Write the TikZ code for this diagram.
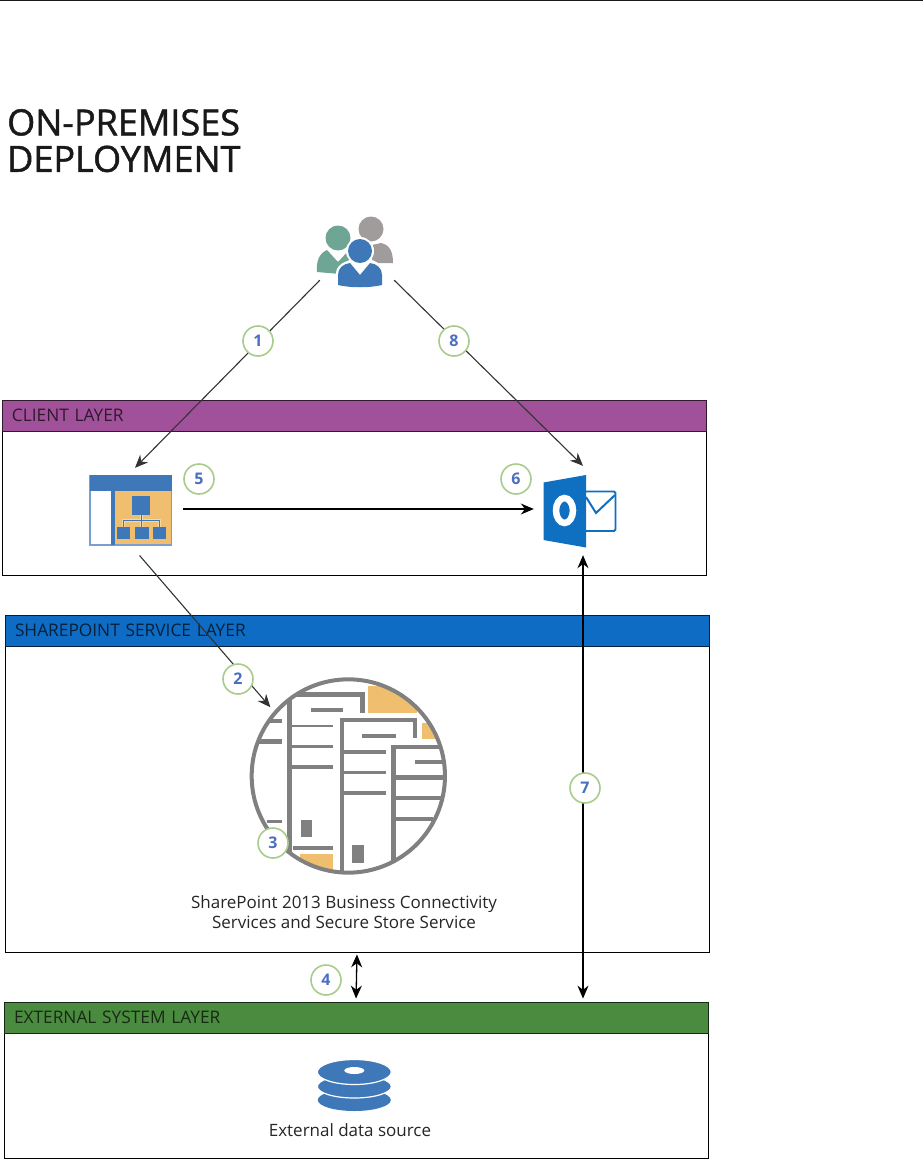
\documentclass[tikz,border=0pt]{standalone}
\usepackage{fontspec}
\setmainfont{Open Sans}
\newfontfamily\titlefont[FakeBold=1.3]{Open Sans}
\usetikzlibrary{arrows.meta}
\definecolor{LayerPurple}{HTML}{A0519A}
\definecolor{LayerBlue}{HTML}{0F6CC4}
\definecolor{LayerGreen}{HTML}{4B8B3F}
\definecolor{IconBlue}{HTML}{3F78B8}
\definecolor{IconOrange}{HTML}{EFBE6E}
\definecolor{IconGray}{HTML}{808080}
\definecolor{UserGray}{HTML}{A09C9C}
\definecolor{IconSage}{HTML}{6FA594}
\definecolor{MailBlue}{HTML}{0F6FC0}
\definecolor{StepGreen}{HTML}{A9CC8C}
\definecolor{StepBlue}{HTML}{4A6FC0}
\tikzset{
    layerbox/.style={draw=black, line width=0.8pt, inner sep=0pt},
    layerbar/.style={draw=black!70!#1, fill=#1, text=black!70!#1, line width=0.8pt, inner sep=0pt, minimum width=704pt, minimum height=31pt,
        text width=684pt, align=left, font=\fontsize{17.3}{19}\selectfont},
    iconbox/.style={inner sep=0pt},
    stepnum/.style={circle, draw=StepGreen, line width=1.6pt, fill=white, minimum size=30pt, inner sep=0pt,
        text=StepBlue, font=\fontsize{16}{18}\selectfont\bfseries},
    caption/.style={align=center, text=black!85, font=\fontsize{17}{19.5}\selectfont},
    flow/.style={->, line width=1.1pt, black!80},
    flowdark/.style={line width=1.3pt, black},
}

\begin{document}
\begin{tikzpicture}[>={Stealth[length=13pt,width=11pt]}, x=1pt, y=-1pt]
    \useasboundingbox (0,0) rectangle (923,1159);
    \fill[white] (0,0) rectangle (923,1159);
    % Rule at the top
    \draw[black!90, line width=1pt] (0,0.5) -- (923,0.5);

    % Title
    \node[anchor=north west, inner sep=0pt, align=left, text=black!90, font=\titlefont\fontsize{36}{36.5}\selectfont] (title) at (7,109) {ON-PREMISES\\DEPLOYMENT};

    % Client layer
    \node[layerbox, minimum width=704pt, minimum height=175pt] (clientbox) at (354,487.5) {};
    \node[layerbar=LayerPurple] (clientbar) at (354,415.5) {CLIENT LAYER};

    % SharePoint layer
    \node[layerbox, minimum width=704pt, minimum height=337pt] (spbox) at (357,783.5) {};
    \node[layerbar=LayerBlue] (spbar) at (357,630.5) {SHAREPOINT SERVICE LAYER};

    % External system layer
    \node[layerbox, minimum width=704pt, minimum height=156pt] (extbox) at (356,1080) {};
    \node[layerbar=LayerGreen] (extbar) at (356,1017.5) {EXTERNAL SYSTEM LAYER};

    % Icon places
    \node[iconbox, minimum width=74pt, minimum height=62pt] (users) at (357,249) {};
    \node[iconbox, minimum width=96pt, minimum height=82pt] (app) at (135,509) {};
    \node[iconbox, minimum width=98pt, minimum height=86pt] (outlook) at (583,509) {};
    \node[iconbox, circle, minimum size=206pt] (bcs) at (348.3,775) {};
    \node[iconbox, minimum width=74pt, minimum height=50pt] (database) at (354,1086) {};

    % Users
    \fill[UserGray] (371,229) circle (12.5);
    \fill[UserGray] (372,245) -- (381,243) .. controls (390,245) and (393,252) .. (393,263) -- (372,263) -- cycle;
    \fill[IconSage] (338,238) circle (12.5);
    \fill[IconSage] (327,250) -- (338,262) -- (349,250) -- (351,264) -- (340,274) -- (317,272) .. controls (316,260) and (320,253) .. (327,250) -- cycle;
    \fill[white] (360,251) circle (14);
    \fill[white] (336,289) -- (336,272) .. controls (338,264) and (344,262) .. (350,260) -- (372,260) .. controls (378,262) and (383,266) .. (384,272) -- (384,289) -- cycle;
    \fill[IconBlue] (360,251) circle (12);
    \fill[IconBlue] (350,263) -- (360,275) -- (370,263) .. controls (377,264) and (382,268) .. (382,275) -- (382,285) .. controls (370,288) and (350,288) .. (338,285) -- (338,275) .. controls (338,268) and (343,264) .. (350,263) -- cycle;

    % Application window
    \draw[IconBlue!70, fill=white, line width=1.2pt] (90,475.5) rectangle (171.5,545);
    \fill[IconOrange] (114,491) rectangle (170.5,544);
    \fill[IconBlue] (89.5,475) rectangle (172,491);
    \fill[IconBlue] (111,491) rectangle (114.5,545);
    \fill[IconBlue] (131.5,496) rectangle (150,515);
    \draw[white!40!IconOrange, line width=3pt] (141,515) -- (141,527) (123,527) -- (123,520) -- (159,520) -- (159,527);
    \draw[IconBlue, line width=1pt] (141,515) -- (141,527) (123,527) -- (123,520) -- (159,520) -- (159,527);
    \fill[IconBlue] (116.5,526.5) rectangle (130,538.5);
    \fill[IconBlue] (135,526.5) rectangle (148.5,538.5);
    \fill[IconBlue] (153,526.5) rectangle (165.5,538.5);

    % Outlook
    \draw[MailBlue, line width=1.8pt, rounded corners=1.5pt] (584,491.5) -- (615.5,491.5) -- (615.5,531) -- (584,531);
    \draw[MailBlue, line width=2pt] (586,497) -- (596,513) -- (615,495);
    \fill[MailBlue] (543.5,482.5) -- (586,475) -- (586,547.5) -- (543.5,540) -- cycle;
    \draw[white, line width=6.5pt] (564.5,510.5) ellipse (8.5 and 12.5);

    % Business connectivity circle
    \begin{scope}[shift={(230,666)}, x=0.3333pt, y=-0.3333pt]
        \begin{scope}
            \clip (355,330) circle (290);
            \fill[IconOrange] (415,60) rectangle (560,140);
            \fill[IconOrange] (575,170) rectangle (620,220);
            \fill[IconOrange] (210,565) rectangle (310,610);
            \fill[IconGray] (212,462) rectangle (247,512);
            \fill[IconGray] (365,538) rectangle (403,590);
            \foreach \xa/\xb/\yy/\wd in {120/157/165/4.5, 80/157/227/4.5, 110/157/466/3.3, 243/340/132/4.5, 185/310/180/2.8, 185/310/241/3.3, 185/310/303/4, 190/308/546/4, 395/498/210/4, 340/468/258/4, 340/468/320/3.3, 340/468/381/3.3, 555/640/288/3.3, 495/640/335/4.5, 495/640/397/4, 495/610/460/4}
                \draw[IconGray, line width=\wd pt] (\xa,\yy) -- (\xb,\yy);
            \draw[IconGray, line width=4.5pt] (178,620) -- (178,85) -- (398,85) -- (398,140);
            \draw[IconGray, line width=4pt] (335,620) -- (335,163) -- (555,163) -- (555,215);
            \draw[IconGray, line width=4.5pt] (490,620) -- (490,243) -- (650,243);
        \end{scope}
        \draw[IconGray, line width=4pt] (355,330) circle (290);
    \end{scope}
    \node[caption] (bcstext) at (344,912) {SharePoint 2013 Business Connectivity\\Services and Secure Store Service};

    % Database
    \fill[IconBlue] (354.3,1100) ellipse (36.5 and 11);
    \draw[white, line width=1.2pt, fill=IconBlue] (354.3,1086.5) ellipse (37 and 11.5);
    \draw[white, line width=1.2pt, fill=IconBlue] (354.3,1072) ellipse (37 and 12.5);
    \fill[white] (354.3,1070.5) ellipse (10 and 3.5);
    \node[caption] (dbtext) at (350,1130) {External data source};

    % Connectors
    \draw[flow] (users.south west) -- (app.north);
    \draw[flow] (users.south east) -- (outlook.north);
    \draw[flowdark, ->] (app.east) -- (outlook.west);
    \draw[flow, shorten <=7pt] (app.south) -- (bcs.139);
    \draw[flowdark, <->, shorten <=2pt, shorten >=3pt] (spbox.south) -- (extbar.north);
    \draw[flowdark, <->, shorten <=3pt, shorten >=3pt] (outlook.south) -- (outlook.south |- extbar.north);

    % Step numbers
    \node[stepnum] (step1) at (258,341) {1};
    \node[stepnum] (step8) at (454,341) {8};
    \node[stepnum] (step5) at (199,479) {5};
    \node[stepnum] (step6) at (516,479) {6};
    \node[stepnum] (step2) at (238,679) {2};
    \node[stepnum] (step3) at (273,843) {3};
    \node[stepnum] (step4) at (326,980) {4};
    \node[stepnum] (step7) at (585,788) {7};
\end{tikzpicture}
\end{document}
